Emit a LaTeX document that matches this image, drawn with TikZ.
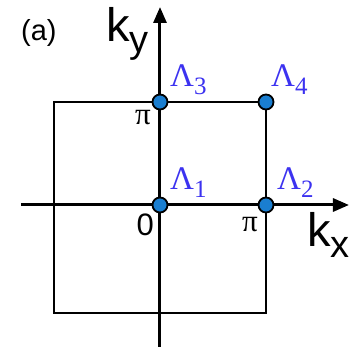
\documentclass[tikz,border=0pt]{standalone}
\usepackage{fontspec}
\setmainfont{Liberation Sans}
\newfontfamily\grkfont{Liberation Serif}
\usepackage{xcolor}
\usetikzlibrary{arrows.meta}
\definecolor{hsdot}{HTML}{1A7ED0}
\definecolor{hslabel}{RGB}{60,50,240}
\tikzset{
  axis/.style={line width=3pt, -{Triangle[length=16pt, width=13pt]}},
  bz/.style={line width=2pt},
  hsp/.style={circle, draw=black, line width=1.8pt, fill=hsdot, inner sep=0pt, minimum size=15pt},
  hslab/.style={anchor=base west, inner sep=0pt, text=hslabel, font=\grkfont\fontsize{33}{33}\selectfont},
  tick/.style={anchor=base east, inner sep=0pt},
  klab/.style={anchor=base west, inner sep=0pt, font=\fontsize{47}{47}\selectfont},
}
\newcommand{\kcomp}[1]{k\raisebox{-11pt}{\fontsize{38}{38}\selectfont #1}}
\newcommand{\hsname}[1]{\textLambda\raisebox{-8pt}{\fontsize{25}{25}\selectfont #1}}
\providecommand{\textLambda}{Λ}

\begin{document}
\begin{tikzpicture}[x=1pt, y=1pt]
  \useasboundingbox (-160,-142) rectangle (197,205);
  % zone boundary
  \coordinate (sqSW) at (-106,-108);
  \coordinate (sqNE) at (106,103);
  \draw[bz] (sqSW) rectangle (sqNE);
  % axes
  \coordinate (xl) at (-139,0);
  \coordinate (xr) at (189,0);
  \coordinate (yb) at (0,-142);
  \coordinate (yt) at (0,198);
  \draw[axis] (xl) -- (xr);
  \draw[axis] (yb) -- (yt);
  % high-symmetry points
  \node[hsp] (L1) at (0,0) {};
  \node[hsp] (L2) at (106,0) {};
  \node[hsp] (L3) at (0,103) {};
  \node[hsp] (L4) at (106,103) {};
  \node[hslab] (L1lab) at (10,15) {\hsname{1}};
  \node[hslab] (L2lab) at (117,15) {\hsname{2}};
  \node[hslab] (L3lab) at (10,118) {\hsname{3}};
  \node[hslab] (L4lab) at (111,118) {\hsname{4}};
  % ticks
  \node[tick, font=\grkfont\fontsize{31}{31}\selectfont] (piy) at (-9,80) {π};
  \node[tick, font=\grkfont\fontsize{31}{31}\selectfont] (pix) at (98,-27) {π};
  \node[tick, font=\fontsize{31}{31}\selectfont] (zero) at (-6,-31) {0};
  % axis names
  \node[klab] (kx) at (147,-42) {\kcomp{x}};
  \node[klab] (ky) at (-54,163) {\kcomp{y}};
  \node[anchor=base west, inner sep=0pt, font=\fontsize{29}{29}\selectfont] (panel) at (-139,164) {(a)};
\end{tikzpicture}
\end{document}
